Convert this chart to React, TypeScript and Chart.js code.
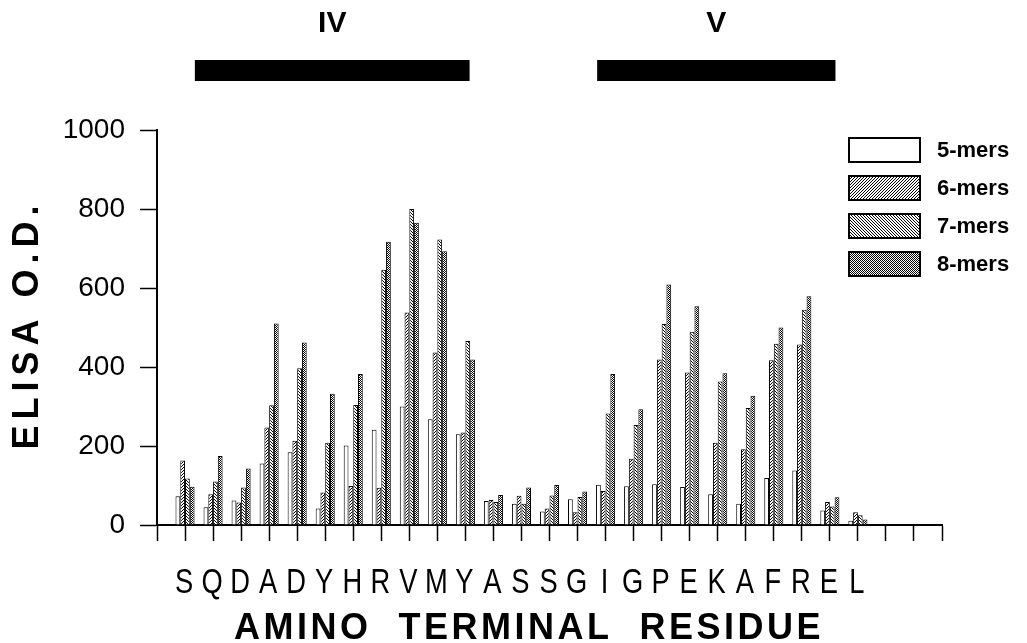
import React, { useEffect, useRef } from 'react';
import { Chart, registerables } from 'chart.js';

Chart.register(...registerables);

// Amino terminal residue of each peptide (blank slots pad the axis)
const residues = ['', 'S', 'Q', 'D', 'A', 'D', 'Y', 'H', 'R', 'V', 'M', 'Y', 'A', 'S', 'S', 'G', 'I', 'G', 'P', 'E', 'K', 'A', 'F', 'R', 'E', 'L', '', '', ''];

const mers5 = [null, 73, 45, 62, 156, 184, 42, 201, 241, 300, 268, 230, 61, 54, 34, 65, 102, 98, 103, 96, 78, 54, 119, 138, 37, 11, null, null, null];
const mers6 = [null, 163, 78, 57, 247, 213, 82, 99, 94, 538, 437, 234, 63, 74, 42, 32, 86, 168, 419, 386, 208, 192, 417, 457, 58, 32, null, null, null];
const mers7 = [null, 118, 110, 95, 303, 397, 208, 304, 646, 800, 723, 466, 58, 54, 75, 71, 282, 253, 509, 489, 363, 296, 459, 545, 47, 25, null, null, null];
const mers8 = [null, 97, 175, 143, 510, 462, 332, 382, 717, 765, 693, 419, 76, 95, 101, 85, 382, 293, 609, 554, 384, 327, 500, 579, 70, 14, null, null, null];

const seriesNames = ['5-mers', '6-mers', '7-mers', '8-mers'];
const yTicks = [0, 200, 400, 600, 800, 1000];

// Epitope regions marked above the plot (in residue-index units)
const regionNames = ['IV', 'V'];
const regionStart = [1.35, 15.7];
const regionEnd = [11.15, 24.2];

const SANS = "'Liberation Sans', Arial, Helvetica, sans-serif";

function makeFill(kind: string): any {
  if (kind === 'plain') return '#ffffff';
  const c = document.createElement('canvas');
  const ctx = c.getContext('2d')!;
  if (kind === 'dots') {
    c.width = 2; c.height = 2;
    ctx.fillStyle = '#ffffff'; ctx.fillRect(0, 0, 2, 2);
    ctx.fillStyle = '#000000';
    ctx.fillRect(0, 0, 1, 1); ctx.fillRect(1, 1, 1, 1);
  } else {
    const n = 3;
    c.width = n; c.height = n;
    ctx.fillStyle = '#ffffff'; ctx.fillRect(0, 0, n, n);
    ctx.fillStyle = '#000000';
    for (let i = 0; i < n; i++) {
      if (kind === 'fwd') ctx.fillRect(i, n - 1 - i, 1, 1);
      else ctx.fillRect(i, i, 1, 1);
    }
  }
  return ctx.createPattern(c, 'repeat');
}

const decorPlugin = {
  id: 'decor',
  afterDraw(chart: any) {
    const { ctx, chartArea } = chart;
    const xs = chart.scales.x;
    ctx.save();
    ctx.fillStyle = '#000';

    // Residue tick labels (condensed, like the original typeface)
    ctx.font = `35px ${SANS}`;
    ctx.textAlign = 'center';
    ctx.textBaseline = 'middle';
    residues.forEach((r, i) => {
      if (!r) return;
      const x = xs.getPixelForTick(i);
      ctx.save();
      ctx.translate(x - 1, chartArea.bottom + 58);
      ctx.scale(0.78, 1);
      ctx.fillText(r, 0, 0);
      ctx.restore();
    });

    // Region bars and labels
    regionNames.forEach((name, k) => {
      const x0 = xs.getPixelForValue(regionStart[k]);
      const x1 = xs.getPixelForValue(regionEnd[k]);
      const top = chartArea.top - 70;
      ctx.fillRect(x0, top, x1 - x0, 21);
      ctx.font = `bold 30px ${SANS}`;
      ctx.textAlign = 'center';
      ctx.textBaseline = 'middle';
      ctx.fillText(name, (x0 + x1) / 2, chartArea.top - 106);
    });

    // Legend
    const lx = chartArea.right - 93;
    chart.data.datasets.forEach((ds: any, i: number) => {
      const ty = chartArea.top + 8 + i * 38;
      ctx.fillStyle = ds.backgroundColor;
      ctx.fillRect(lx, ty, 71, 24);
      ctx.strokeStyle = '#000';
      ctx.lineWidth = 2;
      ctx.strokeRect(lx, ty, 71, 24);
      ctx.fillStyle = '#000';
      ctx.font = `bold 22px ${SANS}`;
      ctx.textAlign = 'left';
      ctx.textBaseline = 'middle';
      ctx.fillText(ds.label, lx + 88, ty + 13);
    });

    // Axis titles
    ctx.fillStyle = '#000';
    ctx.font = `bold 36px ${SANS}`;
    (ctx as any).letterSpacing = '6px';
    ctx.save();
    ctx.translate(28, (chartArea.top + chartArea.bottom) / 2);
    ctx.rotate(-Math.PI / 2);
    ctx.textAlign = 'center';
    ctx.textBaseline = 'middle';
    ctx.fillText('ELISA O.D.', 3, 0);
    ctx.restore();

    (ctx as any).letterSpacing = '3.5px';
    ctx.textAlign = 'center';
    ctx.textBaseline = 'alphabetic';
    ctx.fillText('AMINO  TERMINAL  RESIDUE', 529, 639);
    (ctx as any).letterSpacing = '0px';
    ctx.restore();
  },
};

export default function App() {
  const ref = useRef<HTMLCanvasElement>(null);

  useEffect(() => {
    const canvas = ref.current!;
    const fills = [makeFill('plain'), makeFill('fwd'), makeFill('back'), makeFill('dots')];
    const values = [mers5, mers6, mers7, mers8];
    const chart = new Chart(canvas, {
      type: 'bar',
      data: {
        labels: residues,
        datasets: seriesNames.map((name, i) => ({
          label: name,
          data: values[i] as any,
          backgroundColor: fills[i],
          borderColor: '#000',
          borderWidth: 1,
          categoryPercentage: 0.68,
          barPercentage: 1,
        })),
      },
      options: {
        responsive: false,
        animation: false,
        layout: { padding: { top: 130, right: 85, left: 0, bottom: 0 } },
        plugins: { legend: { display: false }, tooltip: { enabled: false } },
        scales: {
          x: {
            offset: false,
            grid: {
              display: true,
              offset: false,
              drawOnChartArea: false,
              drawTicks: true,
              tickLength: 16,
              color: '#000',
              tickColor: '#000',
              tickWidth: 1.5,
            },
            border: { display: true, color: '#000', width: 2 },
            ticks: { display: false, autoSkip: false, maxRotation: 0, minRotation: 0 },
            afterFit: (s: any) => { s.height = 118; },
          },
          y: {
            min: 0,
            max: 1000,
            afterBuildTicks: (s: any) => { s.ticks = yTicks.map((v) => ({ value: v })); },
            ticks: {
              padding: 15,
              color: '#000',
              font: { family: SANS, size: 28 },
              callback: (v: any) => String(v),
            },
            grid: {
              display: true,
              drawOnChartArea: false,
              drawTicks: true,
              tickLength: 17,
              color: '#000',
              tickColor: '#000',
              tickWidth: 1.5,
            },
            border: { display: true, color: '#000', width: 2 },
            afterFit: (s: any) => { s.width = 157; },
          },
        },
      } as any,
      plugins: [decorPlugin],
    });
    return () => chart.destroy();
  }, []);

  return (
    <div style={{ position: 'absolute', left: 0, top: 0, width: 1027, height: 643, background: '#fff' }}>
      <canvas ref={ref} width={1027} height={643} style={{ display: 'block' }} />
    </div>
  );
}
